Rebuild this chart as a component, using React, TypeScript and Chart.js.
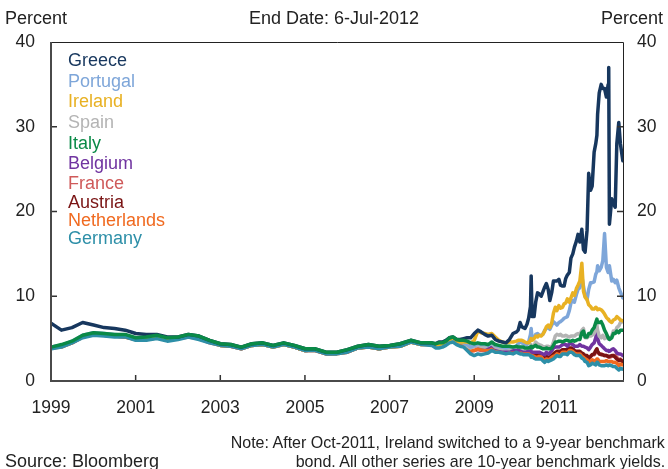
import React, { useEffect, useRef, useMemo } from "react";
import { Chart, registerables } from "chart.js";

Chart.register(...registerables);

const FONT = '"Liberation Sans", Arial, Helvetica, sans-serif';

// Observation dates (quarterly 1999-2007, monthly 2008-2009, ~semi-monthly 2010-2012)
const dates = [
  "1999-01-04", "1999-04-01", "1999-07-01", "1999-10-01",
  "2000-01-03", "2000-04-03", "2000-07-03", "2000-10-02",
  "2001-01-02", "2001-04-02", "2001-07-02", "2001-10-01",
  "2002-01-02", "2002-04-01", "2002-07-01", "2002-10-01",
  "2003-01-02", "2003-04-01", "2003-07-01", "2003-10-01",
  "2004-01-02", "2004-04-01", "2004-07-01", "2004-10-01",
  "2005-01-03", "2005-04-01", "2005-07-01", "2005-10-03",
  "2006-01-02", "2006-04-03", "2006-07-03", "2006-10-02",
  "2007-01-02", "2007-04-02", "2007-07-02", "2007-10-01",
  "2008-01-01", "2008-02-01", "2008-03-01", "2008-04-01", "2008-05-01", "2008-06-01",
  "2008-07-01", "2008-08-01", "2008-09-01", "2008-10-01", "2008-11-01", "2008-12-01",
  "2009-01-01", "2009-02-01", "2009-03-01", "2009-04-01", "2009-05-01", "2009-06-01",
  "2009-07-01", "2009-08-01", "2009-09-01", "2009-10-01", "2009-11-01", "2009-12-01",
  "2010-01-01", "2010-01-15", "2010-02-01", "2010-02-15", "2010-03-01", "2010-03-15",
  "2010-04-01", "2010-04-15", "2010-05-01", "2010-05-07", "2010-05-15", "2010-06-01",
  "2010-06-15", "2010-07-01", "2010-07-15", "2010-08-01", "2010-08-15", "2010-09-01",
  "2010-09-15", "2010-10-01", "2010-10-15", "2010-11-01", "2010-11-15", "2010-12-01",
  "2010-12-15",
  "2011-01-01", "2011-01-15", "2011-02-01", "2011-02-15", "2011-03-01", "2011-03-15",
  "2011-04-01", "2011-04-15", "2011-05-01", "2011-05-15", "2011-06-01", "2011-06-15",
  "2011-07-01", "2011-07-18", "2011-08-01", "2011-08-15", "2011-09-01", "2011-09-15",
  "2011-10-01", "2011-10-15", "2011-11-01", "2011-11-15", "2011-11-25", "2011-12-01",
  "2011-12-15",
  "2012-01-01", "2012-01-15", "2012-01-30", "2012-02-15", "2012-03-01", "2012-03-06",
  "2012-03-12", "2012-04-01", "2012-04-15", "2012-05-01", "2012-05-15", "2012-06-01",
  "2012-06-15", "2012-07-06",
];

const greece = [
  6.8, 6.0, 6.3, 6.9, 6.6, 6.3, 6.2, 6.0, 5.6, 5.5, 5.5, 5.2,
  5.2, 5.5, 5.3, 4.8, 4.4, 4.3, 4.0, 4.4, 4.5, 4.2, 4.5, 4.2,
  3.8, 3.8, 3.4, 3.4, 3.7, 4.1, 4.3, 4.1, 4.2, 4.4, 4.8, 4.5,
  4.5, 4.4, 4.6, 4.6, 4.8, 5.1, 5.2, 4.9, 4.9, 5.0, 5.1, 5.1,
  5.6, 6.0, 5.8, 5.5, 5.3, 5.4, 4.9, 4.7, 4.6, 4.5, 4.9, 5.6,
  5.8, 6.0, 6.9, 6.4, 6.3, 6.2, 6.7, 7.4, 8.8, 12.4, 7.6, 7.6, 9.3,
  10.4, 10.3, 10.0, 10.5, 11.1, 11.5, 10.8, 9.5, 10.5, 11.8, 11.8, 11.8,
  12.0, 11.3, 11.2, 11.2, 12.1, 12.5, 12.8, 14.5, 15.0, 15.8, 16.5, 17.3,
  16.4, 17.9, 15.5, 15.2, 17.8, 24.5, 22.5, 23.0, 27.0, 28.0, 29.0, 31.5, 34.0,
  35.0, 34.5, 34.5, 33.5, 35.0, 37.0, 18.5, 21.5, 21.0, 20.5, 28.0, 30.5, 28.0, 26.0,
];

const portugal = [
  4.0, 4.2, 4.7, 5.4, 5.7, 5.6, 5.5, 5.4, 5.0, 5.1, 5.3, 5.0,
  5.1, 5.3, 5.1, 4.6, 4.3, 4.2, 3.9, 4.3, 4.4, 4.1, 4.4, 4.1,
  3.6, 3.7, 3.3, 3.3, 3.5, 3.9, 4.1, 3.9, 4.1, 4.2, 4.7, 4.4,
  4.4, 4.2, 4.3, 4.4, 4.6, 4.9, 5.0, 4.7, 4.6, 4.5, 4.3, 4.0,
  4.2, 4.4, 4.3, 4.3, 4.2, 4.5, 4.2, 4.1, 4.0, 3.9, 4.0, 4.0,
  4.1, 4.4, 4.6, 4.5, 4.4, 4.3, 4.3, 4.6, 5.5, 6.2, 5.0, 5.1, 5.5,
  5.6, 5.4, 5.4, 5.5, 6.0, 6.2, 6.3, 6.1, 6.6, 7.0, 6.8, 6.6,
  6.9, 7.0, 7.2, 7.4, 7.5, 7.6, 8.3, 9.2, 9.5, 9.3, 10.2, 10.8,
  11.0, 12.4, 11.2, 10.0, 9.6, 10.8, 11.6, 11.6, 11.7, 12.6, 12.9, 13.6, 13.0,
  13.4, 14.2, 17.4, 13.4, 12.8, 13.2, 13.6, 11.8, 12.0, 11.6, 11.9, 11.0, 10.5, 9.8,
];

const ireland = [
  3.9, 4.1, 4.6, 5.3, 5.5, 5.4, 5.4, 5.3, 4.9, 5.0, 5.2, 4.9,
  5.0, 5.3, 5.0, 4.6, 4.2, 4.2, 3.9, 4.2, 4.3, 4.0, 4.3, 4.0,
  3.6, 3.7, 3.3, 3.3, 3.5, 3.9, 4.0, 3.8, 4.0, 4.1, 4.6, 4.3,
  4.4, 4.2, 4.3, 4.4, 4.6, 4.9, 5.0, 4.7, 4.6, 4.6, 4.6, 4.5,
  4.8, 5.9, 5.7, 5.6, 5.5, 5.6, 5.2, 4.8, 4.6, 4.5, 4.6, 4.6,
  4.7, 4.8, 4.8, 4.8, 4.7, 4.6, 4.5, 4.5, 4.8, 5.0, 4.8, 5.0, 5.3,
  5.2, 5.4, 5.3, 5.5, 5.9, 6.4, 6.6, 6.3, 6.9, 8.0, 8.7, 8.3,
  8.9, 8.6, 8.7, 9.1, 9.2, 9.7, 9.3, 9.8, 10.4, 10.1, 10.9, 11.3,
  11.8, 13.9, 10.6, 9.9, 9.6, 9.0, 8.8, 8.5, 8.5, 8.7, 8.6, 8.4, 8.5,
  8.4, 8.2, 7.9, 7.5, 7.3, 7.2, 7.1, 6.9, 7.2, 7.3, 7.6, 7.4, 7.2, 7.1,
];

const spain = [
  4.0, 4.1, 4.6, 5.3, 5.6, 5.5, 5.4, 5.4, 5.0, 5.0, 5.2, 4.9,
  5.0, 5.3, 5.1, 4.6, 4.3, 4.2, 3.9, 4.3, 4.4, 4.1, 4.4, 4.1,
  3.6, 3.7, 3.3, 3.3, 3.5, 3.9, 4.1, 3.8, 4.1, 4.2, 4.7, 4.4,
  4.3, 4.1, 4.2, 4.3, 4.5, 4.8, 4.9, 4.7, 4.6, 4.5, 4.1, 3.9,
  4.1, 4.2, 4.1, 4.0, 4.2, 4.4, 4.0, 3.9, 3.8, 3.8, 3.8, 4.0,
  4.0, 4.0, 4.0, 3.9, 3.8, 3.8, 3.9, 3.9, 4.1, 4.3, 4.0, 4.2, 4.6,
  4.4, 4.3, 4.2, 4.1, 4.0, 4.1, 4.1, 4.0, 4.1, 4.6, 5.3, 5.5,
  5.4, 5.5, 5.3, 5.3, 5.4, 5.3, 5.2, 5.3, 5.3, 5.3, 5.5, 5.6,
  5.5, 6.0, 6.2, 5.1, 5.1, 5.3, 5.3, 5.4, 5.6, 6.3, 6.6, 6.0, 5.3,
  5.1, 5.4, 5.0, 5.2, 5.0, 5.1, 5.0, 5.3, 5.9, 5.8, 6.3, 6.5, 6.9, 7.0,
];

const italy = [
  4.0, 4.3, 4.7, 5.4, 5.7, 5.6, 5.5, 5.5, 5.1, 5.2, 5.4, 5.1,
  5.2, 5.5, 5.3, 4.8, 4.4, 4.3, 4.0, 4.4, 4.5, 4.2, 4.5, 4.2,
  3.8, 3.8, 3.4, 3.4, 3.7, 4.1, 4.3, 4.1, 4.2, 4.4, 4.8, 4.5,
  4.5, 4.4, 4.5, 4.5, 4.7, 5.1, 5.2, 4.9, 4.8, 4.8, 4.7, 4.5,
  4.4, 4.5, 4.4, 4.4, 4.3, 4.6, 4.3, 4.2, 4.1, 4.1, 4.1, 4.0,
  4.1, 4.0, 4.0, 4.0, 4.0, 3.9, 3.9, 3.9, 4.0, 4.1, 3.9, 4.1, 4.2,
  4.0, 4.0, 3.9, 3.8, 3.8, 3.9, 3.8, 3.8, 3.9, 4.2, 4.6, 4.6,
  4.7, 4.7, 4.6, 4.7, 4.8, 4.8, 4.7, 4.7, 4.8, 4.7, 4.8, 4.9,
  4.9, 5.7, 5.9, 5.2, 5.2, 5.6, 5.6, 6.0, 6.3, 6.9, 7.3, 6.9, 6.9,
  7.0, 6.6, 6.0, 5.6, 5.1, 5.0, 4.9, 5.1, 5.6, 5.6, 5.9, 5.7, 6.0, 6.0,
];

const belgium = [
  4.0, 4.2, 4.6, 5.3, 5.6, 5.5, 5.4, 5.4, 5.0, 5.0, 5.2, 4.9,
  5.1, 5.4, 5.1, 4.6, 4.3, 4.2, 3.9, 4.3, 4.4, 4.1, 4.4, 4.1,
  3.6, 3.7, 3.3, 3.3, 3.5, 3.9, 4.1, 3.8, 4.1, 4.2, 4.7, 4.4,
  4.4, 4.2, 4.3, 4.4, 4.6, 4.9, 5.0, 4.7, 4.6, 4.6, 4.3, 4.0,
  4.1, 4.2, 4.1, 4.0, 4.0, 4.2, 3.9, 3.8, 3.7, 3.6, 3.7, 3.7,
  3.7, 3.6, 3.7, 3.7, 3.6, 3.6, 3.6, 3.6, 3.6, 3.5, 3.4, 3.4, 3.4,
  3.4, 3.4, 3.3, 3.2, 3.1, 3.4, 3.2, 3.3, 3.6, 3.9, 4.0, 4.0,
  4.0, 4.1, 4.3, 4.3, 4.3, 4.1, 4.4, 4.4, 4.3, 4.1, 4.1, 4.1,
  4.3, 4.1, 4.1, 4.0, 3.9, 3.7, 4.0, 4.3, 4.5, 5.1, 5.8, 5.0, 4.4,
  4.2, 4.0, 3.8, 3.6, 3.6, 3.5, 3.5, 3.7, 3.8, 3.6, 3.3, 3.2, 3.2, 3.0,
];

const france = [
  3.9, 4.1, 4.5, 5.2, 5.5, 5.4, 5.3, 5.2, 4.9, 4.9, 5.1, 4.8,
  5.0, 5.2, 5.0, 4.5, 4.2, 4.1, 3.8, 4.2, 4.3, 4.0, 4.3, 4.0,
  3.6, 3.6, 3.2, 3.3, 3.4, 3.9, 4.0, 3.8, 4.0, 4.1, 4.6, 4.3,
  4.3, 4.0, 4.1, 4.2, 4.4, 4.7, 4.8, 4.5, 4.4, 4.3, 3.9, 3.5,
  3.6, 3.7, 3.6, 3.6, 3.7, 3.9, 3.7, 3.6, 3.6, 3.6, 3.6, 3.5,
  3.6, 3.5, 3.5, 3.5, 3.4, 3.4, 3.4, 3.4, 3.3, 3.1, 3.2, 3.1, 3.0,
  3.0, 3.1, 3.0, 2.8, 2.6, 2.8, 2.7, 2.8, 3.0, 3.1, 3.3, 3.4,
  3.4, 3.4, 3.6, 3.6, 3.6, 3.5, 3.7, 3.7, 3.6, 3.4, 3.4, 3.4,
  3.4, 3.2, 3.1, 2.9, 2.9, 2.6, 2.9, 3.1, 3.1, 3.4, 3.7, 3.5, 3.2,
  3.2, 3.1, 3.0, 3.0, 2.9, 2.8, 2.8, 2.9, 3.0, 3.0, 2.8, 2.5, 2.6, 2.3,
];

const austria = [
  3.9, 4.1, 4.6, 5.2, 5.6, 5.4, 5.3, 5.3, 4.9, 4.9, 5.1, 4.8,
  5.0, 5.3, 5.0, 4.6, 4.3, 4.2, 3.9, 4.3, 4.4, 4.1, 4.4, 4.0,
  3.6, 3.7, 3.3, 3.3, 3.5, 3.9, 4.1, 3.8, 4.1, 4.2, 4.7, 4.4,
  4.4, 4.1, 4.2, 4.3, 4.5, 4.8, 4.9, 4.6, 4.6, 4.6, 4.3, 4.0,
  4.2, 4.3, 4.2, 4.1, 4.0, 4.2, 4.0, 3.9, 3.7, 3.6, 3.7, 3.6,
  3.7, 3.6, 3.6, 3.6, 3.5, 3.5, 3.5, 3.5, 3.4, 3.2, 3.3, 3.2, 3.1,
  3.1, 3.1, 3.1, 2.9, 2.7, 2.9, 2.8, 2.8, 3.0, 3.2, 3.4, 3.5,
  3.5, 3.5, 3.7, 3.7, 3.7, 3.6, 3.9, 3.9, 3.8, 3.6, 3.5, 3.5,
  3.5, 3.3, 3.2, 3.0, 3.0, 2.7, 2.9, 3.1, 3.2, 3.6, 3.8, 3.5, 3.2,
  3.1, 3.1, 3.0, 3.0, 2.9, 2.9, 2.9, 3.0, 3.0, 2.8, 2.6, 2.4, 2.5, 2.3,
];

const netherlands = [
  3.9, 4.0, 4.5, 5.2, 5.5, 5.4, 5.3, 5.2, 4.9, 4.9, 5.1, 4.8,
  5.0, 5.3, 5.0, 4.6, 4.2, 4.1, 3.8, 4.2, 4.3, 4.0, 4.3, 4.0,
  3.6, 3.6, 3.2, 3.2, 3.4, 3.9, 4.0, 3.8, 4.0, 4.1, 4.6, 4.3,
  4.3, 4.1, 4.1, 4.2, 4.4, 4.7, 4.8, 4.5, 4.4, 4.3, 4.0, 3.6,
  3.6, 3.8, 3.7, 3.7, 3.7, 4.0, 3.7, 3.6, 3.5, 3.5, 3.5, 3.5,
  3.6, 3.5, 3.4, 3.4, 3.4, 3.3, 3.3, 3.3, 3.2, 3.0, 3.0, 2.9, 2.8,
  2.8, 2.9, 2.9, 2.6, 2.4, 2.6, 2.5, 2.6, 2.8, 2.9, 3.0, 3.2,
  3.1, 3.1, 3.4, 3.4, 3.4, 3.3, 3.6, 3.6, 3.5, 3.3, 3.2, 3.2,
  3.2, 2.9, 2.8, 2.6, 2.5, 2.2, 2.3, 2.5, 2.4, 2.3, 2.6, 2.6, 2.3,
  2.3, 2.3, 2.3, 2.4, 2.3, 2.3, 2.3, 2.3, 2.2, 2.2, 2.1, 1.8, 2.0, 1.9,
];

const germany = [
  3.8, 4.0, 4.5, 5.1, 5.4, 5.3, 5.2, 5.2, 4.8, 4.8, 5.0, 4.7,
  4.9, 5.2, 4.9, 4.5, 4.2, 4.1, 3.8, 4.2, 4.3, 4.0, 4.3, 4.0,
  3.6, 3.6, 3.2, 3.2, 3.4, 3.9, 4.0, 3.8, 4.0, 4.1, 4.6, 4.3,
  4.2, 3.9, 3.9, 4.0, 4.2, 4.5, 4.6, 4.3, 4.1, 4.0, 3.6, 3.2,
  3.0, 3.2, 3.1, 3.2, 3.3, 3.6, 3.4, 3.4, 3.3, 3.2, 3.3, 3.2,
  3.4, 3.3, 3.2, 3.2, 3.1, 3.1, 3.1, 3.1, 3.0, 2.8, 2.9, 2.7, 2.6,
  2.6, 2.6, 2.6, 2.4, 2.2, 2.4, 2.3, 2.4, 2.5, 2.6, 2.8, 3.0,
  2.9, 2.9, 3.2, 3.2, 3.2, 3.1, 3.4, 3.4, 3.3, 3.1, 3.0, 3.0,
  3.0, 2.7, 2.6, 2.3, 2.2, 1.8, 1.9, 2.1, 2.0, 1.9, 2.2, 2.2, 1.9,
  1.8, 1.8, 1.8, 1.9, 1.8, 1.8, 1.9, 1.8, 1.7, 1.7, 1.5, 1.3, 1.5, 1.4,
];

const countries = ["Greece", "Portugal", "Ireland", "Spain", "Italy", "Belgium", "France", "Austria", "Netherlands", "Germany"];
const countryValues = [greece, portugal, ireland, spain, italy, belgium, france, austria, netherlands, germany];
const countryColors = ["#17375e", "#7ea6d9", "#e8b123", "#b4b4b4", "#0a8a47", "#7034a0", "#cf5a5a", "#7a1414", "#f06a20", "#2d8fa8"];
// top-most first
const drawOrder = ["Italy", "Greece", "Germany", "Ireland", "Portugal", "Spain", "Belgium", "Netherlands", "Austria", "France"];
const legendCenters = [60, 81, 101, 122, 143, 163, 183, 202, 220, 238];

const xTickYears = [1999, 2001, 2003, 2005, 2007, 2009, 2011];
const yTickValues = [0, 10, 20, 30, 40];
const xMin = 1999;
const xMax = 2012.515;

const noteLines = [
  "Note: After Oct-2011, Ireland switched to a 9-year benchmark",
  "bond. All other series are 10-year benchmark yields.",
];

function toYear(s: string): number {
  const [y, m, d] = s.split("-").map(Number);
  const t = Date.UTC(y, m - 1, d);
  const a = Date.UTC(y, 0, 1);
  const b = Date.UTC(y + 1, 0, 1);
  return y + (t - a) / (b - a);
}

const framePlugin = {
  id: "frame",
  afterDatasetsDraw(chart: any) {
    const { ctx, chartArea, scales } = chart;
    const { left, right, top, bottom } = chartArea;
    ctx.save();
    ctx.strokeStyle = "#333";
    ctx.lineWidth = 1.5;
    ctx.beginPath();
    for (const yr of xTickYears) {
      if (yr === xMin) continue;
      const px = scales.x.getPixelForValue(yr);
      ctx.moveTo(px, bottom);
      ctx.lineTo(px, bottom - 6);
    }
    for (const v of yTickValues) {
      if (v === 0 || v === 40) continue;
      const py = scales.y.getPixelForValue(v);
      ctx.moveTo(left, py);
      ctx.lineTo(left + 6, py);
      ctx.moveTo(right, py);
      ctx.lineTo(right - 6, py);
    }
    ctx.stroke();
    ctx.strokeStyle = "#222";
    ctx.lineWidth = 1;
    ctx.beginPath();
    ctx.moveTo(left, top + 0.5);
    ctx.lineTo(right + 0.5, top + 0.5);
    ctx.lineTo(right + 0.5, bottom);
    ctx.stroke();
    ctx.strokeStyle = "#4a4a4a";
    ctx.lineWidth = 2;
    ctx.beginPath();
    ctx.moveTo(left, top);
    ctx.lineTo(left, bottom);
    ctx.lineTo(right + 1, bottom);
    ctx.stroke();
    ctx.restore();
  },
};

export default function App() {
  const canvasRef = useRef<HTMLCanvasElement | null>(null);

  const noteScale = useMemo(() => {
    const c = document.createElement("canvas").getContext("2d");
    if (!c) return 0.85;
    c.font = `17px ${FONT}`;
    const w = c.measureText(noteLines[0]).width;
    return w > 0 ? Math.min(1, 435 / w) : 0.85;
  }, []);

  useEffect(() => {
    if (!canvasRef.current) return;
    const xs = dates.map(toYear);
    const datasets = drawOrder.map((name) => {
      const idx = countries.indexOf(name);
      const vals = countryValues[idx];
      return {
        label: name,
        data: xs.map((x, i) => ({ x, y: vals[i] })),
        borderColor: countryColors[idx],
        backgroundColor: countryColors[idx],
        borderWidth: 3.5,
        pointRadius: 0,
        tension: 0,
        fill: false,
        borderJoinStyle: "round" as const,
        borderCapStyle: "round" as const,
        xAxisID: "x",
        yAxisID: "y",
      };
    });
    const tickFont = { family: FONT, size: 17.5 };
    const chart = new Chart(canvasRef.current, {
      type: "line",
      data: { datasets },
      options: {
        responsive: false,
        maintainAspectRatio: false,
        animation: false,
        devicePixelRatio: 1,
        events: [],
        layout: { padding: { top: 42, left: 0, right: 0, bottom: 0 } },
        plugins: {
          legend: { display: false },
          tooltip: { enabled: false },
          title: { display: false },
        },
        scales: {
          x: {
            type: "linear",
            position: "bottom",
            min: xMin,
            max: xMax,
            afterBuildTicks: (sc: any) => {
              sc.ticks = xTickYears.map((v) => ({ value: v }));
            },
            afterFit: (sc: any) => {
              sc.height = 88;
            },
            grid: { display: false, drawTicks: false },
            border: { display: false },
            ticks: {
              autoSkip: false,
              maxRotation: 0,
              minRotation: 0,
              padding: 17,
              color: "#222",
              font: tickFont,
              callback: (v: any) => String(v),
            },
          },
          y: {
            type: "linear",
            position: "left",
            min: 0,
            max: 40,
            afterBuildTicks: (sc: any) => {
              sc.ticks = yTickValues.map((v) => ({ value: v }));
            },
            afterFit: (sc: any) => {
              sc.width = 51;
            },
            grid: { display: false, drawTicks: false },
            border: { display: false },
            ticks: { padding: 16, color: "#222", font: tickFont, callback: (v: any) => String(v) },
          },
          y2: {
            type: "linear",
            position: "right",
            min: 0,
            max: 40,
            afterBuildTicks: (sc: any) => {
              sc.ticks = yTickValues.map((v) => ({ value: v }));
            },
            afterFit: (sc: any) => {
              sc.width = 45;
            },
            grid: { display: false, drawTicks: false },
            border: { display: false },
            ticks: { padding: 14, color: "#222", font: tickFont, callback: (v: any) => String(v) },
          },
        },
      } as any,
      plugins: [framePlugin],
    });
    return () => chart.destroy();
  }, []);

  const textBase: React.CSSProperties = {
    position: "absolute",
    fontFamily: FONT,
    fontSize: 18,
    lineHeight: "20px",
    whiteSpace: "nowrap",
    color: "#222",
  };

  return (
    <div style={{ position: "absolute", left: 0, top: 0, width: 668, height: 469, background: "#fff", overflow: "hidden" }}>
      <canvas ref={canvasRef} width={668} height={469} style={{ position: "absolute", left: 0, top: 0, width: 668, height: 469 }} />
      <div style={{ ...textBase, left: 5, top: 8 }}>Percent</div>
      <div style={{ ...textBase, left: 0, width: 668, textAlign: "center", top: 8 }}>End Date: 6-Jul-2012</div>
      <div style={{ ...textBase, right: 5, top: 8 }}>Percent</div>
      {countries.map((c, i) => (
        <div key={c} style={{ ...textBase, left: 68, top: legendCenters[i] - 10, color: countryColors[i] }}>
          {c}
        </div>
      ))}
      <div style={{ ...textBase, left: 5, top: 451 }}>Source: Bloomberg</div>
      {noteLines.map((t, i) => (
        <div
          key={i}
          style={{
            ...textBase,
            fontSize: 17,
            right: 3,
            top: (i === 0 ? 443 : 462) - 10,
            transform: `scaleX(${noteScale})`,
            transformOrigin: "right center",
          }}
        >
          {t}
        </div>
      ))}
    </div>
  );
}
